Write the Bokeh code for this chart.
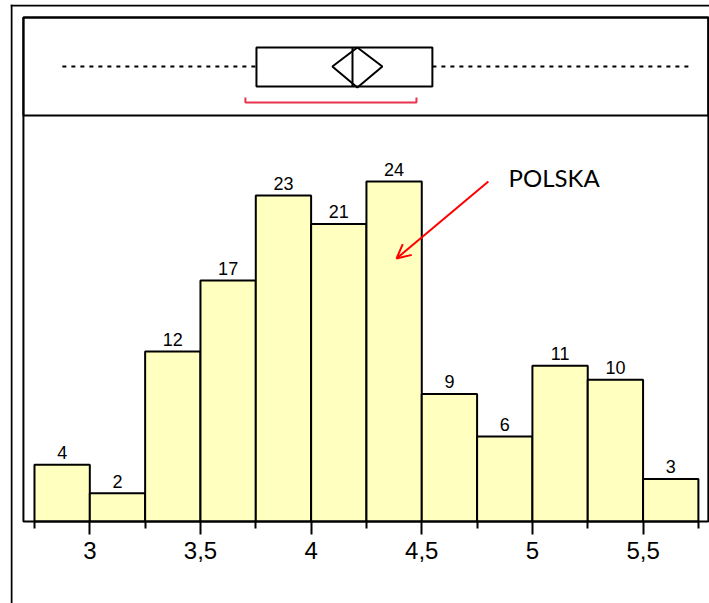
from bokeh.plotting import figure
from bokeh.models import (Range1d, FixedTicker, Span, BoxAnnotation, Arrow, OpenHead,
                          Label, ColumnDataSource, LinearAxis)
from bokeh.core.properties import value
from bokeh.embed import file_html
from bokeh.resources import INLINE

# ---- data ----
bin_left = [2.75, 3.0, 3.25, 3.5, 3.75, 4.0, 4.25, 4.5, 4.75, 5.0, 5.25, 5.5]
bin_right = [3.0, 3.25, 3.5, 3.75, 4.0, 4.25, 4.5, 4.75, 5.0, 5.25, 5.5, 5.75]
counts = [4, 2, 12, 17, 23, 21, 24, 9, 6, 11, 10, 3]

tick_values = [3.0, 3.5, 4.0, 4.5, 5.0, 5.5]
tick_labels = ["3", "3,5", "4", "4,5", "5", "5,5"]
minor_tick_values = [2.75, 3.25, 3.75, 4.25, 4.75, 5.25, 5.75]

# box plot summary
whisker_low = 2.876
q1 = 3.753
median = 4.187
q3 = 4.548
whisker_high = 5.714
mean = 4.209
mean_ci_half = 0.113
shortest_half_low = 3.703
shortest_half_high = 4.476

annotation_text = "POLSKA"

# ---- layout constants ----
X_START, X_END = 2.6416, 5.8002        # plot frame
Y_START, Y_END = -5.787, 36.486
OUTER_LEFT, OUTER_TOP = 2.6461, 36.415  # outer border lines
PANEL_LEFT, PANEL_RIGHT = 2.70, 5.795   # inner panel
PANEL_TOP = 35.57
HIST_TOP = 28.65

p = figure(width=709, height=603, output_backend="svg", toolbar_location=None,
           x_range=Range1d(X_START, X_END), y_range=Range1d(Y_START, Y_END),
           x_axis_location=None, y_axis_location=None,
           min_border_left=10, min_border_right=0,
           min_border_top=4, min_border_bottom=0)
p.extra_y_ranges = {"box": Range1d(-4.9796, 1.1327)}
p.xgrid.visible = False
p.ygrid.visible = False
p.outline_line_color = None
p.background_fill_color = "white"
p.border_fill_color = "white"

# outer frame (left and top edges)
p.add_layout(Span(location=OUTER_LEFT, dimension="height", line_color="black", line_width=2))
p.add_layout(Span(location=OUTER_TOP, dimension="width", line_color="black", line_width=2))

# histogram
src = ColumnDataSource(dict(left=bin_left, right=bin_right, top=counts,
                            xc=[(a + b) / 2 for a, b in zip(bin_left, bin_right)],
                            lab=[str(c) for c in counts]))
p.quad(left="left", right="right", top="top", bottom=0, source=src,
       fill_color="#FFFFC0", line_color="black", line_width=2)
p.text(x="xc", y="top", text="lab", source=src, text_align="center",
       text_baseline="middle", y_offset=-12, text_font=value("Liberation Sans"),
       text_font_size="18px", text_color="black")

# inner panels (histogram panel and box-plot panel)
p.add_layout(BoxAnnotation(left=PANEL_LEFT, right=PANEL_RIGHT, bottom=0, top=PANEL_TOP,
                           fill_alpha=0, line_color="black", line_alpha=1.0, line_width=2))
p.add_layout(BoxAnnotation(left=PANEL_LEFT, right=PANEL_RIGHT, bottom=HIST_TOP, top=PANEL_TOP,
                           fill_alpha=0, line_color="black", line_alpha=1.0, line_width=2))

# box plot panel
p.segment(x0=[whisker_low, q3], y0=[0.5, 0.5], x1=[q1, whisker_high], y1=[0.5, 0.5],
          y_range_name="box", line_color="black", line_width=2, line_dash="4 5")
p.quad(left=[q1], right=[q3], bottom=[0.296], top=[0.694], y_range_name="box",
       fill_color=None, line_color="black", line_width=2)
p.segment(x0=[median], y0=[0.296], x1=[median], y1=[0.694], y_range_name="box",
          line_color="black", line_width=2)
p.patch(x=[mean - mean_ci_half, mean, mean + mean_ci_half, mean],
        y=[0.5, 0.694, 0.5, 0.286], y_range_name="box",
        fill_color=None, line_color="black", line_width=2)
p.multi_line(xs=[[shortest_half_low, shortest_half_low, shortest_half_high, shortest_half_high]],
             ys=[[0.184, 0.133, 0.133, 0.184]], y_range_name="box",
             line_color="#E8344E", line_width=2)

# annotation
p.add_layout(Arrow(x_start=4.801, y_start=24.0, x_end=4.386, y_end=18.56,
                   line_color="red", line_width=2,
                   end=OpenHead(size=14, line_color="red", line_width=2)))
p.add_layout(Label(x=4.892, y=24.28, text=annotation_text, text_font="Lato",
                   text_font_size="24px", text_baseline="middle",
                   text_color="black"))

# x axis fixed at the histogram baseline
ax = LinearAxis(fixed_location=0)
ax.ticker = FixedTicker(ticks=tick_values, minor_ticks=minor_tick_values)
ax.major_label_overrides = {v: l for v, l in zip(tick_values, tick_labels)}
ax.axis_line_color = None
ax.major_tick_line_width = 2
ax.minor_tick_line_width = 2
ax.major_tick_in = 0
ax.major_tick_out = 13
ax.minor_tick_in = 0
ax.minor_tick_out = 7
ax.major_label_text_font = "Liberation Sans"
ax.major_label_text_font_size = "24px"
ax.major_label_text_color = "black"
ax.major_label_standoff = 8
p.add_layout(ax, "below")

open("out.html", "w").write(file_html(p, INLINE))
